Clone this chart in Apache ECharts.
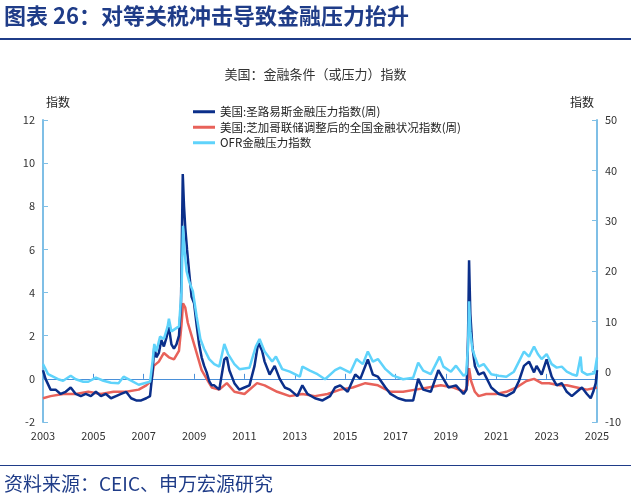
<!DOCTYPE html>
<html><head><meta charset="utf-8">
<script src="https://cdn.jsdelivr.net/npm/echarts@6/dist/echarts.min.js"></script>
<style>body{margin:0}#c{width:631px;height:504px}</style></head>
<body><div id="c"></div>
<script>
var yearTicks = [2003, 2005, 2007, 2009, 2011, 2013, 2015, 2017, 2019, 2021, 2023, 2025];
var seriesNames = ['美国:圣路易斯金融压力指数(周)', '美国:芝加哥联储调整后的全国金融状况指数(周)', 'OFR金融压力指数'];

// [position on year axis, value]
var stlfsi = [
[2003.0,0.4],[2003.1,0.0],[2003.3,-0.5],[2003.5,-0.5],[2003.7,-0.7],[2003.9,-0.6],[2004.1,-0.4],[2004.3,-0.7],[2004.5,-0.8],[2004.7,-0.7],
[2004.9,-0.8],[2005.1,-0.6],[2005.3,-0.8],[2005.5,-0.7],[2005.7,-0.9],[2005.9,-0.8],[2006.1,-0.7],[2006.3,-0.6],[2006.5,-0.9],[2006.7,-1.0],
[2006.9,-1.0],[2007.1,-0.9],[2007.25,-0.8],[2007.35,0.3],[2007.42,1.5],[2007.5,1.0],[2007.6,1.2],[2007.7,1.8],[2007.8,1.5],[2007.9,1.9],[2008.0,2.4],[2008.1,1.6],
[2008.2,1.4],[2008.3,1.6],[2008.4,2.0],[2008.48,3.5],[2008.55,9.5],[2008.6,8.0],[2008.65,7.0],[2008.72,6.0],[2008.8,5.0],[2008.9,3.8],[2009.0,3.5],[2009.1,2.5],
[2009.2,1.6],[2009.3,1.0],[2009.4,0.6],[2009.5,0.3],[2009.6,-0.1],[2009.7,-0.3],[2009.8,-0.3],[2010.0,-0.5],[2010.2,0.9],[2010.3,1.0],[2010.4,0.4],[2010.6,-0.2],
[2010.8,-0.5],[2011.0,-0.4],[2011.2,-0.3],[2011.4,0.6],[2011.55,1.7],[2011.7,1.3],[2011.8,0.8],[2012.0,0.2],[2012.2,0.6],[2012.4,0.0],[2012.6,-0.4],
[2012.8,-0.5],[2013.1,-0.8],[2013.3,-0.3],[2013.5,-0.7],[2013.8,-0.9],[2014.1,-1.0],[2014.4,-0.8],[2014.6,-0.4],[2014.8,-0.3],[2015.1,-0.6],[2015.4,0.2],[2015.6,0.0],
[2015.9,0.9],[2016.1,0.2],[2016.3,0.1],[2016.6,-0.4],[2016.8,-0.7],[2017.1,-0.9],[2017.4,-1.0],[2017.7,-1.0],[2017.9,0.0],[2018.1,-0.5],[2018.4,-0.6],[2018.7,0.4],
[2018.8,0.2],[2019.1,-0.4],[2019.4,-0.3],[2019.7,-0.7],[2019.82,-0.5],[2019.88,2.0],[2019.92,5.5],[2019.97,3.0],[2020.05,1.5],[2020.15,0.6],[2020.3,0.2],[2020.5,0.3],
[2020.8,-0.4],[2021.1,-0.7],[2021.4,-0.8],[2021.7,-0.6],[2021.9,-0.1],[2022.1,0.6],[2022.3,0.8],[2022.5,0.3],[2022.6,0.6],[2022.8,0.2],[2023.0,0.9],[2023.2,0.1],
[2023.4,-0.3],[2023.6,-0.2],[2023.8,-0.6],[2024.0,-0.8],[2024.2,-0.6],[2024.4,-0.4],[2024.6,-0.7],[2024.75,-0.9],[2024.85,-0.6],[2024.95,-0.2],[2025.0,0.4]
];
var nfci = [
[2003.0,-0.9],[2003.3,-0.8],[2003.8,-0.7],[2004.3,-0.7],[2004.8,-0.6],[2005.3,-0.7],[2005.8,-0.6],[2006.3,-0.6],[2006.8,-0.5],[2007.1,-0.3],[2007.3,-0.1],
[2007.4,0.6],[2007.6,0.8],[2007.8,1.2],[2008.0,1.0],[2008.2,0.9],[2008.4,1.3],[2008.5,2.5],[2008.56,3.5],[2008.65,3.3],[2008.75,2.6],[2008.9,2.0],[2009.1,1.2],
[2009.3,0.4],[2009.5,0.0],[2009.7,-0.4],[2010.0,-0.5],[2010.3,-0.2],[2010.6,-0.6],[2011.0,-0.7],[2011.5,-0.2],[2011.8,-0.3],[2012.3,-0.6],[2012.8,-0.8],
[2013.3,-0.7],[2013.8,-0.8],[2014.3,-0.7],[2014.8,-0.5],[2015.3,-0.4],[2015.8,-0.2],[2016.3,-0.3],[2016.8,-0.6],[2017.3,-0.6],[2017.8,-0.5],[2018.3,-0.4],
[2018.8,-0.3],[2019.3,-0.4],[2019.75,-0.6],[2019.85,-0.3],[2019.92,0.5],[2020.0,-0.1],[2020.15,-0.6],[2020.3,-0.8],[2020.6,-0.7],[2021.0,-0.7],[2021.4,-0.6],
[2021.8,-0.4],[2022.2,-0.1],[2022.5,0.0],[2022.8,-0.2],[2023.1,-0.2],[2023.5,-0.3],[2023.8,-0.3],[2024.2,-0.4],[2024.6,-0.5],[2025.0,-0.4]
];
var ofr = [
[2003.0,1.5],[2003.1,0.5],[2003.2,-0.5],[2003.4,-1.0],[2003.6,-1.5],[2003.8,-1.8],[2004.1,-0.8],[2004.3,-1.5],[2004.6,-2.0],[2004.8,-2.0],[2005.1,-1.2],[2005.4,-1.8],
[2005.7,-2.2],[2006.0,-2.3],[2006.2,-1.0],[2006.5,-1.8],[2006.8,-2.6],[2007.1,-2.2],[2007.25,-2.0],[2007.35,2.0],[2007.42,5.5],[2007.5,4.0],[2007.65,7.0],[2007.8,6.5],
[2007.95,9.0],[2008.0,10.5],[2008.1,8.0],[2008.25,8.5],[2008.4,9.0],[2008.5,16.0],[2008.56,29.0],[2008.62,24.0],[2008.7,20.0],[2008.8,18.0],[2008.95,16.0],
[2009.1,11.0],[2009.25,6.5],[2009.4,4.5],[2009.6,2.5],[2009.8,1.5],[2010.0,1.0],[2010.2,5.5],[2010.35,3.5],[2010.6,1.5],[2010.8,0.5],[2011.2,0.8],[2011.45,5.0],
[2011.6,6.5],[2011.8,4.0],[2012.1,2.0],[2012.25,3.0],[2012.5,0.5],[2012.8,0.0],[2013.2,-1.0],[2013.3,1.0],[2013.6,0.2],[2013.9,-0.5],[2014.2,-1.5],[2014.6,0.3],
[2014.8,0.8],[2015.2,-0.2],[2015.45,2.5],[2015.7,1.5],[2015.9,4.0],[2016.1,2.0],[2016.3,2.5],[2016.6,0.5],[2016.9,-0.8],[2017.3,-1.5],[2017.7,-1.2],[2017.9,1.8],
[2018.1,0.2],[2018.4,-0.5],[2018.75,3.0],[2018.9,1.0],[2019.2,0.0],[2019.4,1.2],[2019.7,-0.8],[2019.8,-0.5],[2019.88,5.0],[2019.92,14.0],[2019.97,8.0],
[2020.05,4.5],[2020.15,3.0],[2020.3,1.0],[2020.5,1.5],[2020.8,-0.5],[2021.1,-0.8],[2021.4,-1.0],[2021.7,0.0],[2021.9,2.0],[2022.1,4.0],[2022.3,3.0],[2022.5,5.0],
[2022.65,3.5],[2022.8,2.5],[2023.0,3.5],[2023.2,1.5],[2023.4,0.8],[2023.6,1.0],[2023.8,0.0],[2024.0,-0.5],[2024.2,-0.8],[2024.35,3.0],[2024.4,0.0],[2024.6,-0.6],
[2024.9,-0.3],[2025.0,2.8]
];

var chart = echarts.init(document.getElementById('c'));
var blue = '#7fbfe6';
chart.setOption({
  animation: false,
  textStyle: {fontFamily: 'Noto Sans CJK SC'},
  graphic: [
    {type: 'text', left: 4, top: 5, style: {text: '图表 26：对等关税冲击导致金融压力抬升', fill: '#1f3c88', font: 'bold 22px "Noto Sans CJK SC"'}},
    {type: 'rect', shape: {x: 0, y: 38, width: 631, height: 2}, style: {fill: '#1f3c88'}},
    {type: 'text', left: 'center', top: 68, style: {text: '美国：金融条件（或压力）指数', fill: '#333', font: '13px "Noto Sans CJK SC"'}},
    {type: 'rect', shape: {x: 0, y: 465, width: 631, height: 1}, style: {fill: '#1f3c88'}},
    {type: 'text', left: 4, top: 474, style: {text: '资料来源：CEIC、申万宏源研究', fill: '#1f3c88', font: '19px "Noto Sans CJK SC"'}}
  ],
  legend: {
    orient: 'vertical', left: 188, top: 101, itemGap: 4, itemWidth: 22, itemHeight: 3,
    icon: 'rect', textStyle: {fontSize: 11.5, color: '#222'},
    data: seriesNames
  },
  grid: {left: 43, right: 34, top: 120, bottom: 82},
  xAxis: {
    type: 'value', min: 2003, max: 2025, interval: 2,
    axisLine: {onZero: true, lineStyle: {color: '#4a90d9'}},
    axisTick: {show: true, inside: true, lineStyle: {color: '#4a90d9'}},
    axisLabel: {color: '#333', fontSize: 11, formatter: function (v) { return yearTicks.indexOf(v) >= 0 ? String(v) : ''; }},
    splitLine: {show: false}
  },
  yAxis: [
    {type: 'value', min: -2, max: 12, interval: 2, name: '指数', nameLocation: 'end', nameGap: 12,
     nameTextStyle: {color: '#222', fontSize: 12, padding: [0, 0, 0, 30]},
     axisLine: {show: true, lineStyle: {color: blue, width: 2}}, axisTick: {show: true, inside: true},
     axisLabel: {color: '#333', fontSize: 11}, splitLine: {show: false}},
    {type: 'value', min: -10, max: 50, interval: 10, name: '指数', nameLocation: 'end', nameGap: 12,
     nameTextStyle: {color: '#222', fontSize: 12, padding: [0, 30, 0, 0]},
     axisLine: {show: true, lineStyle: {color: blue, width: 2}}, axisTick: {show: true, inside: true},
     axisLabel: {color: '#333', fontSize: 11}, splitLine: {show: false}}
  ],
  series: [
    {name: seriesNames[0], type: 'line', data: stlfsi, yAxisIndex: 0, showSymbol: false, z: 3,
     lineStyle: {width: 2.5, color: '#0b2f8a'}, itemStyle: {color: '#0b2f8a'}},
    {name: seriesNames[1], type: 'line', data: nfci, yAxisIndex: 0, showSymbol: false, z: 2,
     lineStyle: {width: 2.5, color: '#e8625a'}, itemStyle: {color: '#e8625a'}},
    {name: seriesNames[2], type: 'line', data: ofr, yAxisIndex: 1, showSymbol: false, z: 4,
     lineStyle: {width: 2.5, color: '#5fd3fb'}, itemStyle: {color: '#5fd3fb'}}
  ]
});
</script></body></html>
